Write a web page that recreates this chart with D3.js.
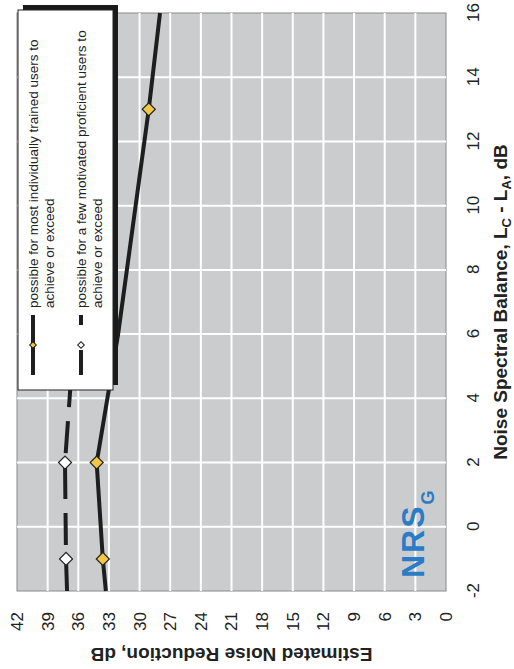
<!DOCTYPE html>
<html>
<head>
<meta charset="utf-8">
<script src="https://cdn.jsdelivr.net/npm/d3@7"></script>
<style>
  body { margin: 0; background: #fff; }
  text { font-family: 'Liberation Sans', Arial, sans-serif; }
</style>
</head>
<body>
<div id="chart"></div>
<script>
// chart values
const xTickValues = [-2, 0, 2, 4, 6, 8, 10, 12, 14, 16]
const yTickValues = [0, 3, 6, 9, 12, 15, 18, 21, 24, 27, 30, 33, 36, 39, 42]

const solidX = [-2, -1, 2, 6, 13, 16]
const solidY = [33.3, 33.6, 34.2, 32.1, 29.1, 28.0]
const solidMarkers = [-1, 2, 13]

const dashedX = [-2, -1, 2, 6]
const dashedY = [37.1, 37.2, 37.3, 36.4]
const dashedMarkers = [-1, 2]

const legendLines = [
  ['possible for most individually trained users to', 'achieve or exceed'],
  ['possible for a few motivated proficient users to', 'achieve or exceed']
]

// the printed figure is turned a quarter turn, so draw it upright and rotate
const W = 669

const svg = d3.select('#chart')
  .append('svg')
  .attr('width', 514)
  .attr('height', 669)

const g = svg.append('g')
  .attr('transform', 'translate(0,' + W + ') rotate(-90)')

const xPositionScale = d3.scaleLinear().domain([-2, 16]).range([78, 656])
const yPositionScale = d3.scaleLinear().domain([0, 42]).range([446, 17])

// plot background
g.append('rect')
  .attr('x', xPositionScale(-2))
  .attr('y', yPositionScale(42))
  .attr('width', xPositionScale(16) - xPositionScale(-2))
  .attr('height', yPositionScale(0) - yPositionScale(42))
  .attr('fill', '#cbcccd')
  .attr('stroke', '#8a8a8a')
  .attr('stroke-width', 1)

// grid
g.append('g')
  .selectAll('line')
  .data(xTickValues.slice(1, -1))
  .enter().append('line')
  .attr('x1', d => xPositionScale(d))
  .attr('x2', d => xPositionScale(d))
  .attr('y1', yPositionScale(42))
  .attr('y2', yPositionScale(0))
  .attr('stroke', '#fff')
  .attr('stroke-width', 2)

g.append('g')
  .selectAll('line')
  .data(yTickValues.slice(1, -1))
  .enter().append('line')
  .attr('x1', xPositionScale(-2))
  .attr('x2', xPositionScale(16))
  .attr('y1', d => yPositionScale(d))
  .attr('y2', d => yPositionScale(d))
  .attr('stroke', '#fff')
  .attr('stroke-width', 2)

// axes (labels only)
const xAxis = d3.axisBottom(xPositionScale)
  .tickValues(xTickValues)
  .tickFormat(d => String(d))
  .tickSize(0)
  .tickPadding(21)
g.append('g')
  .attr('class', 'axis x-axis')
  .attr('transform', 'translate(0,' + yPositionScale(0) + ')')
  .call(xAxis)
  .call(s => s.select('.domain').remove())
  .selectAll('text')
  .attr('font-size', 17)
  .attr('font-family', 'Liberation Sans, Arial, sans-serif')
  .attr('fill', '#222')

const yAxis = d3.axisLeft(yPositionScale)
  .tickValues(yTickValues)
  .tickFormat(d => String(d))
  .tickSize(0)
  .tickPadding(21)
g.append('g')
  .attr('class', 'axis y-axis')
  .attr('transform', 'translate(' + xPositionScale(-2) + ',0)')
  .call(yAxis)
  .call(s => s.select('.domain').remove())
  .selectAll('text')
  .attr('font-size', 17)
  .attr('font-family', 'Liberation Sans, Arial, sans-serif')
  .attr('fill', '#222')

// axis titles
const xTitle = g.append('text')
  .attr('x', (xPositionScale(-2) + xPositionScale(16)) / 2)
  .attr('y', 507)
  .attr('text-anchor', 'middle')
  .attr('font-size', 19)
  .attr('font-weight', 'bold')
  .attr('fill', '#222')
xTitle.append('tspan').text('Noise Spectral Balance, L')
xTitle.append('tspan').attr('font-size', 13).attr('dy', 4).text('C')
xTitle.append('tspan').attr('dy', -4).text(' - L')
xTitle.append('tspan').attr('font-size', 13).attr('dy', 4).text('A')
xTitle.append('tspan').attr('dy', -4).text(', dB')

g.append('text')
  .attr('transform', 'translate(14,' + (yPositionScale(0) + yPositionScale(42)) / 2 + ') rotate(-90)')
  .attr('text-anchor', 'middle')
  .attr('dy', '0.35em')
  .attr('font-size', 19)
  .attr('font-weight', 'bold')
  .attr('fill', '#222')
  .text('Estimated Noise Reduction, dB')

// NRS label
const nrs = g.append('text')
  .attr('x', 91)
  .attr('y', 424)
  .attr('font-size', 32)
  .attr('font-weight', 'bold')
  .attr('letter-spacing', 2)
  .attr('fill', '#2a7cc7')
nrs.append('tspan').text('NRS')
nrs.append('tspan').attr('font-size', 18).attr('dy', 10).text('G')

// series
const line = d3.line()
  .x(d => xPositionScale(d[0]))
  .y(d => yPositionScale(d[1]))

const solidPts = d3.zip(solidX, solidY)
const dashedPts = d3.zip(dashedX, dashedY)

g.append('path')
  .datum(dashedPts)
  .attr('d', line)
  .attr('fill', 'none')
  .attr('stroke', '#1e1e1e')
  .attr('stroke-width', 4)
  .attr('stroke-dasharray', '32,14')

g.append('path')
  .datum(solidPts)
  .attr('d', line)
  .attr('fill', 'none')
  .attr('stroke', '#1e1e1e')
  .attr('stroke-width', 4)

const diamond = d3.symbol().type(d3.symbolSquare).size(85)

g.append('g')
  .selectAll('path')
  .data(dashedMarkers)
  .enter().append('path')
  .attr('d', diamond)
  .attr('transform', d => 'translate(' + xPositionScale(d) + ',' + yPositionScale(dashedY[dashedX.indexOf(d)]) + ') rotate(45)')
  .attr('fill', '#fff')
  .attr('stroke', '#222')
  .attr('stroke-width', 1.2)

g.append('g')
  .selectAll('path')
  .data(solidMarkers)
  .enter().append('path')
  .attr('d', diamond)
  .attr('transform', d => 'translate(' + xPositionScale(d) + ',' + yPositionScale(solidY[solidX.indexOf(d)]) + ') rotate(45)')
  .attr('fill', '#f2c744')
  .attr('stroke', '#222')
  .attr('stroke-width', 1.2)

// legend
const legend = g.append('g').attr('transform', 'translate(279,18)')

legend.append('rect')
  .attr('x', 5)
  .attr('y', 5)
  .attr('width', 380)
  .attr('height', 95)
  .attr('fill', '#1a1a1a')

legend.append('rect')
  .attr('width', 380)
  .attr('height', 95)
  .attr('fill', '#fff')
  .attr('stroke', '#222')
  .attr('stroke-width', 1)

const item = legend.selectAll('.item')
  .data(legendLines)
  .enter().append('g')
  .attr('class', 'item')
  .attr('transform', (d, i) => 'translate(0,' + (15 + i * 48) + ')')

item.append('line')
  .attr('x1', 15)
  .attr('x2', 75)
  .attr('stroke', '#1e1e1e')
  .attr('stroke-width', 4)
  .attr('stroke-dasharray', (d, i) => i === 0 ? null : '25,25,10,100')

item.append('path')
  .attr('d', d3.symbol().type(d3.symbolSquare).size(22))
  .attr('transform', 'translate(45,0) rotate(45)')
  .attr('fill', (d, i) => i === 0 ? '#f2c744' : '#fff')
  .attr('stroke', '#222')
  .attr('stroke-width', 1)

item.selectAll('text')
  .data(d => d)
  .enter().append('text')
  .attr('x', 82)
  .attr('y', (d, i) => 5 + i * 16)
  .attr('font-size', 13.5)
  .attr('fill', '#222')
  .text(d => d)
</script>
</body>
</html>
